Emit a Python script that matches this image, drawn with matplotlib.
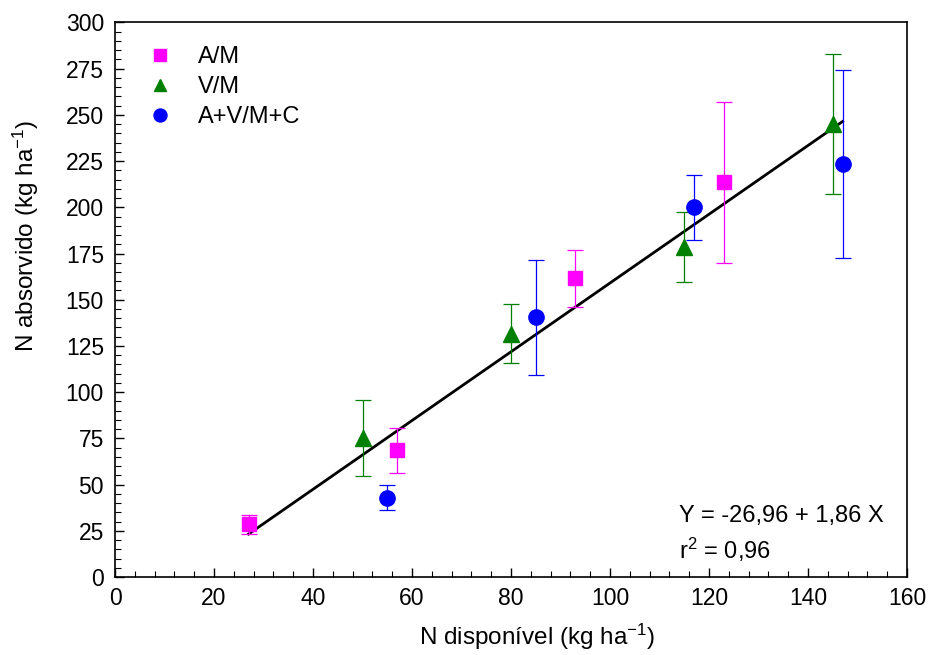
import matplotlib
matplotlib.use("Agg")
import matplotlib.pyplot as plt
from matplotlib.lines import Line2D
import numpy as np

plt.rcParams['font.family'] = ['Liberation Sans', 'DejaVu Sans']
plt.rcParams['mathtext.default'] = 'regular'

# N disponível x N absorvido, média +- desvio
x_am = [27, 57, 93, 123]
y_am = [28.5, 68.5, 161.5, 213.5]
e_am = [5, 12, 15.5, 43.5]

x_vm = [50, 80, 115, 145]
y_vm = [75, 131.5, 178.5, 245]
e_vm = [20.5, 16, 19, 38]

x_avmc = [55, 85, 117, 147]
y_avmc = [43, 140.5, 200, 223.5]
e_avmc = [7, 31, 17.5, 51]

# regressão
a, b = -26.96, 1.86
x_reg = [27, 147]

fig = plt.figure(figsize=(9.29, 6.55), dpi=100)
ax = fig.add_axes([0.1238, 0.1191, 0.8525, 0.8466])

xr = np.array(x_reg)
ax.plot(xr, a + b * xr, color='black', lw=2, zorder=2)

series = [
    (x_am, y_am, e_am, 's', '#ff00ff', 9.5, 'A/M'),
    (x_vm, y_vm, e_vm, '^', '#008000', 11, 'V/M'),
    (x_avmc, y_avmc, e_avmc, 'o', '#0000ff', 11, 'A+V/M+C'),
]
handles = []
for xs, ys, es, m, c, ms, lab in series:
    ax.errorbar(xs, ys, yerr=es, fmt='none', ecolor=c, elinewidth=0.9,
                capsize=6, capthick=0.9, zorder=3)
    ax.plot(xs, ys, m, color=c, ms=ms, mec=c, zorder=4)
    handles.append(Line2D([], [], marker=m, color=c, ls='none', ms=ms * 0.85, label=lab))

ax.legend(handles=handles, loc='upper left', frameon=False, fontsize=17,
          handlelength=1.0, handletextpad=1.1, labelspacing=0.35,
          borderaxespad=0.0, bbox_to_anchor=(0.03, 0.975))

ax.text(114, 33, 'Y = -26,96 + 1,86 X', fontsize=17, va='center')
ax.text(114, 14.5, 'r$^{2}$ = 0,96', fontsize=17, va='center')

ax.set_xlim(0, 160)
ax.set_ylim(0, 300)
ax.set_xticks(np.arange(0, 161, 20))
ax.set_xticks(np.arange(0, 161, 4), minor=True)
ax.set_yticks(np.arange(0, 301, 25))
ax.set_yticks(np.arange(0, 301, 5), minor=True)
ax.tick_params(which='both', direction='in', top=False, right=False, labelsize=16.5)
ax.tick_params(which='major', length=6.5, width=1)
ax.tick_params(which='minor', length=4, width=0.8)
ax.tick_params(axis='x', which='major', pad=7)
ax.tick_params(axis='y', which='major', pad=8)
for s in ax.spines.values():
    s.set_linewidth(1.2)

ax.set_xlabel('N disponível (kg ha$^{-1}$)', fontsize=17.5)
ax.set_ylabel('N absorvido (kg ha$^{-1}$)', fontsize=17.5)
ax.xaxis.set_label_coords(0.533, -0.08)
ax.yaxis.set_label_coords(-0.094, 0.615)

fig.savefig('out.png', dpi=100)
